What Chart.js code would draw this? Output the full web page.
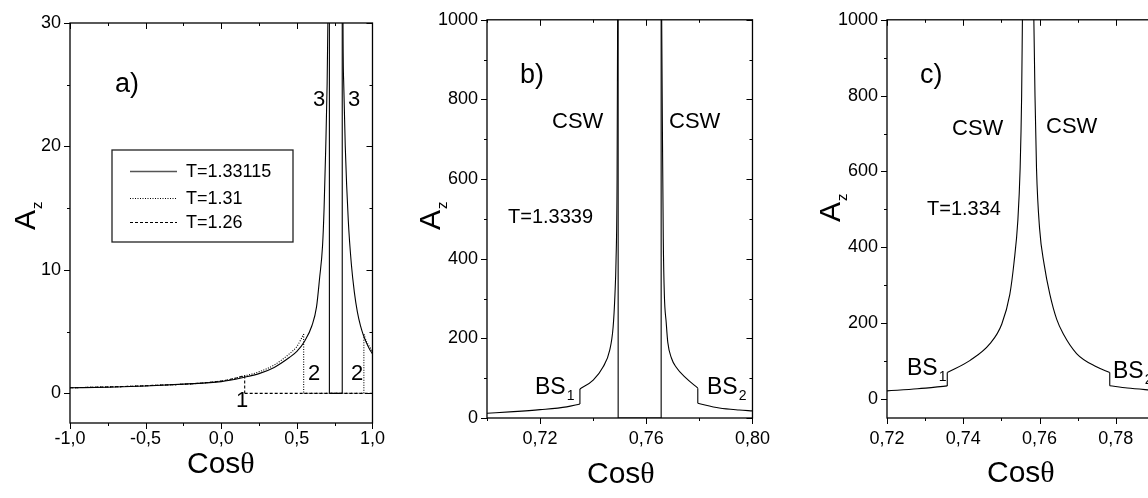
<!DOCTYPE html>
<html>
<head>
<meta charset="utf-8">
<script src="https://cdn.jsdelivr.net/npm/chart.js@4.4.1/dist/chart.umd.min.js"></script>
<style>
html, body { margin: 0; padding: 0; background: #fff; overflow: hidden; width: 1148px; height: 498px; }
canvas { position: absolute; top: 0; }
</style>
</head>
<body>
<canvas id="chartA" width="390" height="498" style="left:0px"></canvas>
<canvas id="chartB" width="390" height="498" style="left:390px"></canvas>
<canvas id="chartC" width="400" height="498" style="left:780px"></canvas>
<script>
// ---- panel a) ----
var seriesA = ['T=1.33115', 'T=1.31', 'T=1.26'];
var aSolidX = [-1.0, -0.75, -0.5, -0.25, 0.0, 0.15, 0.25, 0.35, 0.45, 0.5, 0.55, 0.6, 0.63, 0.65, 0.67, 0.68, 0.69, 0.70, 0.705, 0.71, 0.715, 0.715, 0.80, 0.80, 0.805, 0.81, 0.82, 0.84, 0.86, 0.88, 0.90, 0.92, 0.94, 0.96, 0.98, 1.0];
var aSolidY = [0.45, 0.5, 0.6, 0.75, 0.95, 1.3, 1.6, 2.1, 2.9, 3.4, 4.2, 5.5, 7.0, 9.3, 12, 15, 19.5, 25, 30, 40, 60, 0, 0, 60, 30, 25, 20, 14, 10.5, 8.2, 6.6, 5.5, 4.7, 4.1, 3.6, 3.2];
var aDotX = [-1.0, -0.5, 0.0, 0.15, 0.25, 0.35, 0.45, 0.5, 0.545, 0.545, 0.943, 0.943, 0.96, 0.98, 1.0];
var aDotY = [0.45, 0.62, 1.0, 1.4, 1.75, 2.3, 3.2, 3.8, 4.8, 0, 0, 4.8, 4.2, 3.8, 3.4];
var aDashX = [-1.0, -0.5, 0.0, 0.1, 0.155, 0.155, 1.0];
var aDashY = [0.45, 0.62, 1.0, 1.25, 1.45, 0, 0];
var aXTicks = [-1, -0.5, 0, 0.5, 1];
var aXMinor = [-0.75, -0.25, 0.25, 0.75];
var aYTicks = [0, 10, 20, 30];
var aYMinor = [5, 15, 25];

// ---- panel b) T=1.3339 ----
var bX = [0.70, 0.71, 0.72, 0.73, 0.735, 0.735, 0.74, 0.7437, 0.7462, 0.7475, 0.7482, 0.7486, 0.749, 0.7492, 0.7494, 0.7494, 0.7656, 0.7656, 0.7658, 0.7661, 0.7664, 0.7668, 0.7675, 0.7681, 0.7695, 0.7712, 0.775, 0.7794, 0.7794, 0.7875, 0.795, 0.80];
var bY = [12, 16, 21, 28, 35, 73, 95, 128, 170, 228, 311, 394, 600, 1000, 1300, 0, 0, 1300, 1000, 700, 450, 310, 240, 190, 150, 128, 100, 75, 37, 25, 20, 18];
var bXTicks = [0.72, 0.76, 0.80];
var bXMinor = [0.70, 0.74, 0.78];
var bYTicks = [0, 200, 400, 600, 800, 1000];
var bYMinor = [100, 300, 500, 700, 900];

// ---- panel c) T=1.334 ----
var cX = [0.72, 0.728, 0.7358, 0.7358, 0.7418, 0.747, 0.7501, 0.7522, 0.7533, 0.7543, 0.7549, 0.7553, 0.7555, 0.7558, 0.7582, 0.7585, 0.7588, 0.7592, 0.76, 0.7612, 0.7627, 0.7645, 0.7662, 0.7697, 0.7749, 0.7784, 0.7784, 0.783, 0.79];
var cY = [21.6, 27, 34.7, 70, 102, 146, 198, 276, 360, 470, 607, 800, 1000, 1300, 1300, 1000, 800, 607, 450, 355, 276, 210, 172, 120, 85, 70, 35, 29, 23];
var cXTicks = [0.72, 0.74, 0.76, 0.78];
var cXMinor = [0.73, 0.75, 0.77, 0.79];
var cYTicks = [0, 200, 400, 600, 800, 1000];
var cYMinor = [100, 300, 500, 700, 900];

var SANS = '"Liberation Sans", Arial, sans-serif';
var SERIF = '"Liberation Serif", "DejaVu Serif", serif';

// one series -> several datasets: smooth runs between the vertical jumps,
// and straight 2-point pieces for the jumps themselves
function series(label, xs, ys, dash) {
    var out = [];
    var base = { borderColor: '#000', borderWidth: 1.1, borderDash: dash, pointRadius: 0, fill: false };
    function piece(from, to, smooth) {
        if (to - from < 1) return;
        var d = [];
        for (var k = from; k <= to; k++) d.push({ x: xs[k], y: ys[k] });
        var ds = Object.assign({}, base, { label: label, data: d });
        if (smooth) ds.cubicInterpolationMode = 'monotone';
        else ds.tension = 0;
        out.push(ds);
    }
    var start = 0;
    for (var i = 1; i < xs.length; i++) {
        if (xs[i] === xs[i - 1]) {
            piece(start, i - 1, true);
            piece(i - 1, i, false);
            start = i;
        }
    }
    piece(start, xs.length - 1, true);
    return out;
}

// frame, tick marks (major + minor), texts and legend
function decor(o) {
    return {
        id: 'decor',
        afterDatasetsDraw: function (chart) {
            var ctx = chart.ctx, a = chart.chartArea, xs = chart.scales.x, ys = chart.scales.y;
            ctx.save();
            ctx.strokeStyle = '#000';
            ctx.lineWidth = 1.3;
            ctx.strokeRect(a.left, a.top, a.right - a.left, a.bottom - a.top);

            ctx.lineWidth = 1;
            ctx.beginPath();
            function xt(vals, len) {
                vals.forEach(function (v) {
                    var p = Math.round(xs.getPixelForValue(v)) + 0.5;
                    ctx.moveTo(p, a.bottom); ctx.lineTo(p, a.bottom + len);
                    ctx.moveTo(p, a.top); ctx.lineTo(p, a.top + len);
                });
            }
            function yt(vals, len) {
                vals.forEach(function (v) {
                    var p = Math.round(ys.getPixelForValue(v)) + 0.5;
                    ctx.moveTo(a.left, p); ctx.lineTo(a.left - len, p);
                    ctx.moveTo(a.right, p); ctx.lineTo(a.right - len, p);
                });
            }
            xt(o.xTicks, 6); xt(o.xMinor, 3);
            yt(o.yTicks, 6); yt(o.yMinor, 3);
            ctx.stroke();

            var off = o.offset;
            ctx.fillStyle = '#000';
            ctx.textAlign = 'left';
            ctx.textBaseline = 'alphabetic';

            // texts inside panel
            o.labels.forEach(function (l) {
                ctx.font = l.s + 'px ' + SANS;
                ctx.fillText(l.t, l.x - off, l.y);
                if (l.sub) {
                    var w = ctx.measureText(l.t).width;
                    ctx.font = Math.round(l.s * 0.6) + 'px ' + SANS;
                    ctx.fillText(l.sub, l.x - off + w + 1, l.y + 6);
                }
            });

            // x title Cos(theta)
            ctx.font = '30px ' + SANS;
            ctx.fillText('Cos', o.xTitle[0] - off, o.xTitle[1]);
            var cw = ctx.measureText('Cos').width;
            ctx.font = '30px ' + SERIF;
            ctx.fillText('\u03b8', o.xTitle[0] - off + cw, o.xTitle[1]);

            // y title A_z
            ctx.save();
            ctx.translate(o.yTitle[0] - off, o.yTitle[1]);
            ctx.rotate(-Math.PI / 2);
            ctx.font = '30px ' + SANS;
            ctx.fillText('A', 0, 0);
            var aw = ctx.measureText('A').width;
            ctx.font = '15px ' + SANS;
            ctx.fillText('z', aw + 1, 7);
            ctx.restore();

            // legend box
            if (o.legend) {
                var L = o.legend;
                ctx.strokeStyle = '#222';
                ctx.lineWidth = 1.3;
                ctx.strokeRect(L.x - off, L.y, L.w, L.h);
                L.items.forEach(function (it, i) {
                    var yy = L.rows[i];
                    ctx.beginPath();
                    ctx.setLineDash(it.dash);
                    ctx.lineWidth = i === 0 ? 1.6 : 1;
                    ctx.strokeStyle = i === 0 ? '#555' : '#000';
                    ctx.moveTo(L.x1 - off, yy + 0.5);
                    ctx.lineTo(L.x2 - off, yy + 0.5);
                    ctx.stroke();
                    ctx.setLineDash([]);
                    ctx.font = '18px ' + SANS;
                    ctx.fillText(it.label, L.tx - off, yy + 6);
                });
            }
            ctx.restore();
        }
    };
}

function makeChart(id, o) {
    var tickFont = { family: SANS, size: 18 };
    return new Chart(document.getElementById(id), {
        type: 'line',
        data: { datasets: o.datasets },
        options: {
            responsive: false,
            animation: false,
            devicePixelRatio: 1,
            layout: { padding: { left: 0, top: o.top, right: o.right, bottom: 0 } },
            plugins: { legend: { display: false }, tooltip: { enabled: false }, colors: { enabled: false } },
            scales: {
                x: {
                    type: 'linear', min: o.xMin, max: o.xMax,
                    grid: { display: false, drawTicks: false }, border: { display: false },
                    afterFit: function (s) { s.height = o.bottomH; },
                    afterBuildTicks: function (s) { s.ticks = o.xTicks.map(function (v) { return { value: v }; }); },
                    ticks: { autoSkip: false, maxRotation: 0, padding: o.xPad, color: '#000', font: tickFont, callback: o.xFmt }
                },
                y: {
                    type: 'linear', min: o.yMin, max: o.yMax,
                    grid: { display: false, drawTicks: false }, border: { display: false },
                    afterFit: function (s) { s.width = o.leftW; },
                    afterBuildTicks: function (s) { s.ticks = o.yTicks.map(function (v) { return { value: v }; }); },
                    ticks: { autoSkip: false, padding: 9, color: '#000', font: tickFont, callback: function (v) { return String(v); } }
                }
            }
        },
        plugins: [decor(o)]
    });
}

document.addEventListener('DOMContentLoaded', function () {

    var dashes = [[], [1, 1.5], [3, 2]];

    makeChart('chartA', {
        offset: 0, top: 23, right: 17, leftW: 70, bottomH: 75, xPad: 5,
        xMin: -1, xMax: 1, yMin: -2.4, yMax: 30,
        xTicks: aXTicks, xMinor: aXMinor, yTicks: aYTicks, yMinor: aYMinor,
        xFmt: function (v) { return v.toFixed(1).replace('.', ','); },
        datasets: [].concat(
            series(seriesA[0], aSolidX, aSolidY, dashes[0]),
            series(seriesA[1], aDotX, aDotY, dashes[1]),
            series(seriesA[2], aDashX, aDashY, dashes[2])
        ),
        labels: [
            { t: 'a)', x: 115, y: 92, s: 27 },
            { t: '3', x: 313, y: 106, s: 22 },
            { t: '3', x: 348, y: 106, s: 22 },
            { t: '2', x: 308, y: 380, s: 22 },
            { t: '2', x: 351, y: 380, s: 22 },
            { t: '1', x: 236, y: 407, s: 22 }
        ],
        legend: {
            x: 112, y: 150, w: 181, h: 92, x1: 130, x2: 177, tx: 186, rows: [171, 198, 222],
            items: seriesA.map(function (s, i) { return { label: s, dash: dashes[i] }; })
        },
        xTitle: [187, 473], yTitle: [35, 230]
    });

    makeChart('chartB', {
        offset: 390, top: 17, right: 27, leftW: 97, bottomH: 80, xPad: 10,
        xMin: 0.70, xMax: 0.80, yMin: 0, yMax: 1000,
        xTicks: bXTicks, xMinor: bXMinor, yTicks: bYTicks, yMinor: bYMinor,
        xFmt: function (v) { return v.toFixed(2).replace('.', ','); },
        datasets: series('T=1.3339', bX, bY, []),
        labels: [
            { t: 'b)', x: 520, y: 83, s: 27 },
            { t: 'CSW', x: 552, y: 128, s: 22 },
            { t: 'CSW', x: 669, y: 128, s: 22 },
            { t: 'T=1.3339', x: 508, y: 223, s: 20 },
            { t: 'BS', sub: '1', x: 535, y: 394, s: 23 },
            { t: 'BS', sub: '2', x: 707, y: 394, s: 23 }
        ],
        xTitle: [587, 483], yTitle: [440, 230]
    });

    makeChart('chartC', {
        offset: 780, top: 16, right: 26, leftW: 107, bottomH: 80, xPad: 10,
        xMin: 0.72, xMax: 0.79, yMin: -50, yMax: 1000,
        xTicks: cXTicks, xMinor: cXMinor, yTicks: cYTicks, yMinor: cYMinor,
        xFmt: function (v) { return v.toFixed(2).replace('.', ','); },
        datasets: series('T=1.334', cX, cY, []),
        labels: [
            { t: 'c)', x: 920, y: 83, s: 27 },
            { t: 'CSW', x: 952, y: 135, s: 22 },
            { t: 'CSW', x: 1046, y: 133, s: 22 },
            { t: 'T=1.334', x: 927, y: 215, s: 20 },
            { t: 'BS', sub: '1', x: 907, y: 375, s: 23 },
            { t: 'BS', sub: '2', x: 1113, y: 378, s: 23 }
        ],
        xTitle: [987, 482], yTitle: [840, 222]
    });
});
</script>
</body>
</html>
